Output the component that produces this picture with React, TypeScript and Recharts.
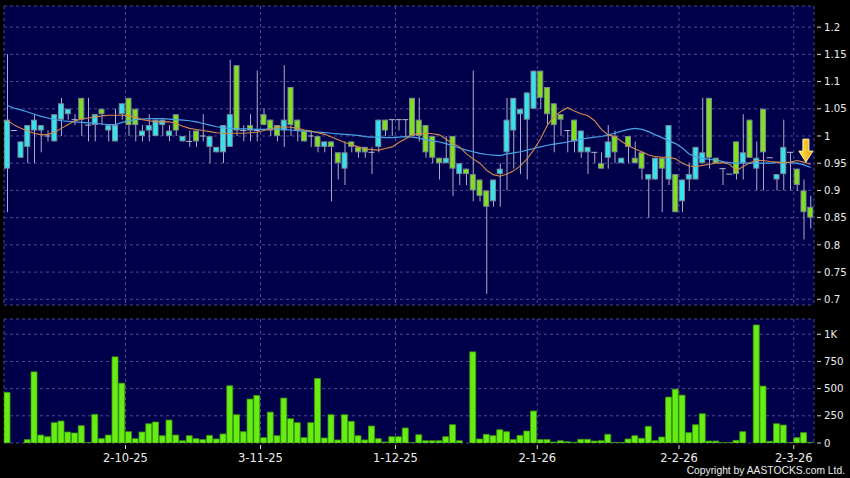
import React from 'react';
import { ComposedChart, Bar, Line, XAxis, YAxis, CartesianGrid, ReferenceDot } from 'recharts';

// trading days, d-m-yy
const DATES = [
  '5-9-25', '8-9-25', '9-9-25', '10-9-25', '11-9-25', '12-9-25', '15-9-25', '16-9-25', '17-9-25', '18-9-25',
  '19-9-25', '22-9-25', '23-9-25', '24-9-25', '25-9-25', '26-9-25', '29-9-25', '30-9-25',
  '2-10-25', '3-10-25', '6-10-25', '8-10-25', '9-10-25', '10-10-25', '13-10-25', '14-10-25', '15-10-25', '16-10-25',
  '17-10-25', '20-10-25', '21-10-25', '22-10-25', '23-10-25', '24-10-25', '27-10-25', '28-10-25', '30-10-25', '31-10-25',
  '3-11-25', '4-11-25', '5-11-25', '6-11-25', '7-11-25', '10-11-25', '11-11-25', '12-11-25', '13-11-25', '14-11-25',
  '17-11-25', '18-11-25', '19-11-25', '20-11-25', '21-11-25', '24-11-25', '25-11-25', '26-11-25', '27-11-25', '28-11-25',
  '1-12-25', '2-12-25', '3-12-25', '4-12-25', '5-12-25', '8-12-25', '9-12-25', '10-12-25', '11-12-25', '12-12-25',
  '15-12-25', '16-12-25', '17-12-25', '18-12-25', '19-12-25', '22-12-25', '23-12-25', '24-12-25', '29-12-25', '30-12-25', '31-12-25',
  '2-1-26', '5-1-26', '6-1-26', '7-1-26', '8-1-26', '9-1-26', '12-1-26', '13-1-26', '14-1-26', '15-1-26',
  '16-1-26', '19-1-26', '20-1-26', '21-1-26', '22-1-26', '23-1-26', '26-1-26', '27-1-26', '28-1-26', '29-1-26', '30-1-26',
  '2-2-26', '3-2-26', '4-2-26', '5-2-26', '6-2-26', '9-2-26', '10-2-26', '11-2-26', '12-2-26', '13-2-26',
  '16-2-26', '20-2-26', '23-2-26', '24-2-26', '25-2-26', '26-2-26', '27-2-26',
  '2-3-26', '3-3-26', '4-3-26',
];

const OPEN = [
  0.94, 1.01, 0.96, 0.98, 1.01, 1.01, 1.0, 0.99, 1.03, 1.04,
  1.03, 1.07, 1.02, 1.02, 1.05, 1.01, 0.99, 1.04, 1.07, 1.05,
  1.0, 1.01, 1.0, 1.02, 1.0, 1.04, 0.99, 0.99, 1.01, 1.0,
  0.98, 0.97, 0.97, 0.98, 1.13, 1.01, 1.02, 1.01, 1.04, 1.03,
  1.02, 1.01, 1.09, 1.03, 1.01, 1.0, 1.0, 0.98, 0.99, 0.97,
  0.94, 0.99, 0.98, 0.98, 0.97, 0.98, 1.03, 1.03, 1.03, 1.03,
  1.07, 1.03, 1.02, 1.0, 0.96, 0.95, 1.0, 0.93, 0.94, 0.93,
  0.92, 0.9, 0.88, 0.93, 0.97, 1.01, 1.04, 1.03, 1.05, 1.12,
  1.09, 1.06, 1.04, 1.01, 1.03, 0.97, 0.97, 0.97, 0.95, 0.96,
  1.0, 0.95, 1.0, 0.96, 0.97, 0.92, 0.92, 0.96, 0.92, 0.93,
  0.88, 0.92, 0.92, 0.95, 1.07, 0.96, 0.94, 0.93, 0.99, 0.95,
  1.03, 0.94, 1.05, 0.96, 0.92, 0.93, 0.97, 0.94, 0.9, 0.87,
];
const HIGH = [
  1.15, 1.01, 0.99, 1.02, 1.04, 1.02, 1.01, 1.04, 1.07, 1.05,
  1.04, 1.07, 1.07, 1.04, 1.05, 1.02, 1.05, 1.06, 1.07, 1.05,
  1.02, 1.04, 1.03, 1.03, 1.02, 1.04, 1.0, 1.01, 1.01, 1.04,
  1.0, 0.98, 1.02, 1.14, 1.13, 1.02, 1.04, 1.12, 1.05, 1.03,
  1.02, 1.13, 1.09, 1.03, 1.01, 1.01, 1.0, 0.99, 0.99, 0.97,
  0.99, 0.99, 0.98, 0.98, 0.98, 1.03, 1.03, 1.03, 1.03, 1.03,
  1.07, 1.07, 1.02, 1.0, 0.96, 1.0, 1.0, 0.95, 0.94, 1.12,
  0.92, 0.9, 0.92, 0.95, 1.07, 1.07, 1.05, 1.08, 1.12, 1.12,
  1.09, 1.06, 1.04, 1.01, 1.03, 1.01, 0.98, 0.97, 0.97, 1.02,
  1.01, 0.96, 1.0, 0.99, 0.97, 0.93, 0.96, 0.96, 1.02, 0.93,
  0.92, 0.95, 0.98, 1.07, 1.07, 0.96, 0.94, 0.93, 0.99, 1.04,
  1.03, 0.99, 1.05, 0.96, 0.93, 1.03, 0.97, 0.94, 0.92, 0.89,
];
const LOW = [
  0.86, 1.01, 0.96, 0.95, 0.95, 0.97, 0.99, 0.99, 1.0, 1.03,
  1.02, 1.0, 0.99, 0.99, 1.02, 0.99, 0.99, 1.03, 1.0, 0.99,
  0.99, 0.99, 1.0, 1.0, 0.99, 1.0, 0.99, 0.98, 0.98, 0.99,
  0.95, 0.97, 0.95, 0.98, 1.0, 0.99, 0.99, 0.99, 1.02, 1.0,
  0.99, 0.98, 1.0, 0.99, 0.99, 0.98, 0.97, 0.97, 0.88, 0.92,
  0.91, 0.97, 0.96, 0.96, 0.93, 0.97, 1.0, 1.0, 1.01, 1.0,
  1.0, 0.99, 0.96, 0.95, 0.92, 0.95, 0.89, 0.91, 0.91, 0.88,
  0.88, 0.71, 0.87, 0.87, 0.9, 0.94, 0.93, 0.92, 1.05, 1.05,
  1.02, 0.97, 1.0, 0.97, 0.97, 0.96, 0.93, 0.95, 0.94, 0.94,
  0.95, 0.95, 0.95, 0.95, 0.92, 0.85, 0.92, 0.86, 0.91, 0.86,
  0.86, 0.9, 0.92, 0.95, 0.94, 0.95, 0.91, 0.93, 0.92, 0.92,
  0.96, 0.9, 0.9, 0.96, 0.9, 0.9, 0.9, 0.9, 0.81, 0.83,
];
const CLOSE = [
  1.03, 1.01, 0.99, 1.02, 1.03, 1.02, 1.0, 1.04, 1.06, 1.05,
  1.03, 1.03, 1.02, 1.04, 1.04, 1.02, 1.02, 1.06, 1.02, 1.02,
  1.01, 1.02, 1.03, 1.03, 1.01, 1.01, 1.0, 0.99, 0.99, 1.0,
  1.0, 0.98, 1.02, 1.04, 1.01, 1.01, 1.01, 1.01, 1.02, 1.01,
  1.0, 1.03, 1.02, 1.01, 0.99, 1.0, 0.98, 0.99, 0.98, 0.95,
  0.97, 0.98, 0.97, 0.97, 0.97, 1.03, 1.01, 1.03, 1.03, 1.03,
  1.0, 1.0, 0.97, 0.96, 0.95, 0.96, 0.94, 0.95, 0.93, 0.9,
  0.89, 0.87, 0.92, 0.94, 1.03, 1.07, 1.05, 1.08, 1.12, 1.07,
  1.04, 1.02, 1.03, 1.01, 0.99, 1.01, 0.98, 0.97, 0.94, 0.99,
  0.97, 0.96, 0.98, 0.95, 0.94, 0.93, 0.96, 0.94, 1.02, 0.86,
  0.92, 0.93, 0.98, 0.97, 0.96, 0.95, 0.94, 0.93, 0.93, 0.97,
  0.96, 0.96, 0.97, 0.96, 0.93, 0.98, 0.97, 0.91, 0.86, 0.85,
];
// volume, thousands of shares
const VOLUME = [
  465, 0, 0, 31, 654, 73, 58, 187, 202, 101,
  92, 159, 3, 263, 40, 73, 792, 550, 104, 40,
  101, 177, 193, 67, 211, 73, 21, 67, 40, 31,
  70, 37, 83, 526, 260, 104, 404, 437, 49, 284,
  67, 413, 223, 187, 49, 187, 593, 46, 260, 28,
  260, 199, 67, 28, 156, 40, 9, 58, 58, 138,
  3, 76, 21, 21, 21, 58, 168, 21, 0, 838,
  37, 80, 67, 122, 104, 31, 70, 110, 294, 31,
  31, 9, 21, 12, 6, 34, 34, 18, 21, 80,
  5, 5, 37, 67, 43, 153, 21, 55, 422, 495,
  440, 95, 168, 269, 18, 18, 3, 3, 24, 104,
  0, 1085, 523, 15, 177, 165, 3, 49, 95, 5,
];
// moving averages as drawn (orange = short, blue = long)
const MA_SHORT = [
  1.029, 1.02, 1.014, 1.009, 1.005, 1.002, 1.003, 1.007, 1.014, 1.021,
  1.028, 1.031, 1.033, 1.035, 1.037, 1.038, 1.038, 1.038, 1.037, 1.035,
  1.03, 1.028, 1.026, 1.026, 1.026, 1.023, 1.018, 1.014, 1.012, 1.01,
  1.008, 1.006, 1.005, 1.005, 1.005, 1.005, 1.006, 1.007, 1.01, 1.013,
  1.016, 1.017, 1.016, 1.014, 1.011, 1.009, 1.006, 1.003, 0.998, 0.993,
  0.988, 0.984, 0.98, 0.976, 0.975, 0.974, 0.977, 0.98, 0.988, 0.995,
  1.002, 1.004, 1.005, 1.004, 1.002, 0.994, 0.986, 0.98, 0.967, 0.958,
  0.95, 0.937, 0.929, 0.926, 0.93, 0.936, 0.945, 0.958, 0.975, 0.995,
  1.02, 1.036, 1.045, 1.052, 1.046, 1.041, 1.037, 1.028, 1.012, 1.002,
  0.999, 0.99, 0.982, 0.976, 0.971, 0.965, 0.962, 0.961, 0.961, 0.958,
  0.95, 0.945, 0.944, 0.946, 0.948, 0.95, 0.951, 0.948, 0.936, 0.944,
  0.951, 0.955, 0.955, 0.953, 0.952, 0.951, 0.952, 0.955, 0.952, 0.948,
];
const MA_LONG = [
  1.056, 1.051, 1.048, 1.044, 1.04, 1.036, 1.033, 1.03, 1.028, 1.027,
  1.026, 1.025, 1.024, 1.023, 1.022, 1.021, 1.021, 1.025, 1.028, 1.03,
  1.031, 1.032, 1.032, 1.032, 1.031, 1.03, 1.029, 1.028, 1.026, 1.023,
  1.02, 1.017, 1.015, 1.014, 1.013, 1.013, 1.013, 1.012, 1.012, 1.013,
  1.013, 1.012, 1.011, 1.01, 1.009, 1.008, 1.007, 1.006, 1.005, 1.004,
  1.003, 1.002, 1.001, 0.999, 0.998, 0.998, 0.997, 0.997, 0.998, 0.999,
  0.998, 0.996, 0.993, 0.991, 0.989, 0.986, 0.982, 0.978, 0.974, 0.971,
  0.968, 0.966, 0.965, 0.964, 0.967, 0.969, 0.971, 0.974, 0.977, 0.98,
  0.983, 0.985, 0.987, 0.989, 0.992, 0.994, 0.996, 0.998, 0.999, 1.002,
  1.005, 1.009, 1.012, 1.014, 1.012, 1.008, 1.002, 0.997, 0.991, 0.986,
  0.978, 0.967, 0.962, 0.959, 0.957, 0.956, 0.953, 0.951, 0.95, 0.95,
  0.95, 0.95, 0.95, 0.95, 0.951, 0.951, 0.951, 0.95, 0.947, 0.942,
];

const PRICE_TICKS = [0.7, 0.75, 0.8, 0.85, 0.9, 0.95, 1, 1.05, 1.1, 1.15, 1.2];
const VOLUME_TICKS = [0, 250, 500, 750, 1000];
const ARROW_AT = { x: 118.3, y: 0.952 };

const UP = '#33e4f0';
const DOWN = '#80e01e';
const NAVY = '#00004a';
const GRID = '#4a4a92';
const FONT = 'DejaVu Sans';

const X_DOMAIN = [-0.5, DATES.length - 0.5];
const month = (d: string) => d.split('-')[1];
// grid sits on the left edge of the first trading day of each month
const MONTH_TICKS = DATES.map((d, i) => (i > 0 && month(d) !== month(DATES[i - 1]) ? i - 0.5 : null)).filter(
  (v): v is number => v !== null
);

const Wick = (props: any) => {
  const { x, y, width, height } = props;
  const cx = x + width / 2;
  const top = Math.min(y, y + height);
  const bottom = Math.max(y, y + height);
  if (bottom - top < 0.5) return null;
  return <line x1={cx} x2={cx} y1={top} y2={bottom} stroke="#a8acc6" strokeWidth={1} />;
};

const Body = (props: any) => {
  const { x, y, width, height, payload } = props;
  const top = Math.min(y, y + height);
  const h = Math.abs(height);
  if (h < 1) {
    return <line x1={x} x2={x + width} y1={top} y2={top} stroke="#b4b8cc" strokeWidth={1} />;
  }
  return (
    <rect
      x={x + 0.5}
      y={top + 0.5}
      width={width - 1}
      height={h - 1}
      fill={payload.up ? UP : DOWN}
      stroke="#7a8a94"
      strokeWidth={1}
    />
  );
};

const Arrow = ({ cx, cy }: any) => (
  <g>
    <defs>
      <linearGradient id="arrowFill" x1="0" y1="0" x2="1" y2="0">
        <stop offset="0" stopColor="#ffe35a" />
        <stop offset="1" stopColor="#f0a400" />
      </linearGradient>
    </defs>
    <polygon
      points={`${cx},${cy} ${cx - 7},${cy - 11} ${cx - 3},${cy - 11} ${cx - 3},${cy - 23} ${cx + 3},${cy - 23} ${cx + 3},${cy - 11} ${cx + 7},${cy - 11}`}
      fill="url(#arrowFill)"
      stroke="#fff0a0"
      strokeWidth={1}
    />
  </g>
);

const RightTick = ({ x, y, payload, fmt }: any) => (
  <g>
    <line x1={x + 3} x2={x + 7} y1={y} y2={y} stroke="#d8d8d8" strokeWidth={1} />
    <text x={x + 10} y={y} dy="0.36em" fill="#ececec" fontSize={10.2} fontFamily={FONT}>
      {fmt(payload.value)}
    </text>
  </g>
);

const DateTick = ({ x, y, payload }: any) => (
  <g>
    <line x1={x} x2={x} y1={y + 2} y2={y + 6} stroke="#d8d8d8" strokeWidth={1} />
    <text x={x} y={y + 19} textAnchor="middle" fill="#ececec" fontSize={11.5} fontFamily={FONT}>
      {DATES[payload.value + 0.5]}
    </text>
  </g>
);

const priceFmt = (v: number) => String(parseFloat(v.toFixed(2)));
const volFmt = (v: number) => (v >= 1000 ? `${v / 1000}K` : String(v));

export default function App() {
  const rows = DATES.map((date, i) => ({
    i,
    date,
    wick: [LOW[i], HIGH[i]],
    body: [Math.min(OPEN[i], CLOSE[i]), Math.max(OPEN[i], CLOSE[i])],
    up: CLOSE[i] >= OPEN[i],
    vol: VOLUME[i],
    maShort: MA_SHORT[i],
    maLong: MA_LONG[i],
  }));

  return (
    <div style={{ position: 'absolute', left: 0, top: 0, width: 850, height: 478, background: '#000', overflow: 'hidden' }}>
      <div style={{ position: 'absolute', left: 0, top: 0 }}>
        <ComposedChart width={850} height={310} data={rows} margin={{ top: 6, right: 0, bottom: 5, left: 4 }}>
          <CartesianGrid fill={NAVY} stroke={GRID} strokeDasharray="3 3" />
          <XAxis xAxisId={0} type="number" dataKey="i" domain={X_DOMAIN} ticks={MONTH_TICKS} allowDataOverflow hide />
          <XAxis xAxisId="body" type="number" dataKey="i" domain={X_DOMAIN} allowDataOverflow hide />
          <YAxis
            orientation="right"
            width={36}
            domain={[0.6895, 1.2388]}
            ticks={PRICE_TICKS}
            allowDataOverflow
            axisLine={false}
            tickLine={false}
            tickSize={0}
            tickMargin={0}
            tick={(p: any) => <RightTick {...p} fmt={priceFmt} />}
          />
          <Bar xAxisId={0} dataKey="wick" barSize={1} shape={Wick} isAnimationActive={false} />
          <Bar xAxisId="body" dataKey="body" barSize={6} shape={Body} isAnimationActive={false} />
          <Line xAxisId={0} dataKey="maLong" stroke="#48a4e6" strokeWidth={1.2} dot={false} isAnimationActive={false} />
          <Line xAxisId={0} dataKey="maShort" stroke="#d4884a" strokeWidth={1.1} dot={false} isAnimationActive={false} />
          <ReferenceDot xAxisId={0} x={ARROW_AT.x} y={ARROW_AT.y} shape={Arrow} />
        </ComposedChart>
      </div>
      <div style={{ position: 'absolute', left: 0, top: 310 }}>
        <ComposedChart width={850} height={168} data={rows} margin={{ top: 9, right: 0, bottom: 0, left: 4 }}>
          <CartesianGrid fill={NAVY} stroke={GRID} strokeDasharray="3 3" />
          <XAxis
            type="number"
            dataKey="i"
            domain={X_DOMAIN}
            ticks={MONTH_TICKS}
            allowDataOverflow
            height={35}
            axisLine={false}
            tickLine={false}
            tickSize={0}
            tickMargin={0}
            interval={0}
            tick={DateTick}
          />
          <YAxis
            orientation="right"
            width={36}
            domain={[0, 1140]}
            ticks={VOLUME_TICKS}
            allowDataOverflow
            axisLine={false}
            tickLine={false}
            tickSize={0}
            tickMargin={0}
            tick={(p: any) => <RightTick {...p} fmt={volFmt} />}
          />
          <Bar dataKey="vol" barSize={6} fill="#66ee12" stroke="#3f9a0c" strokeWidth={0.8} isAnimationActive={false} />
        </ComposedChart>
      </div>
      <div
        style={{
          position: 'absolute',
          right: 5,
          top: 465,
          fontFamily: "'Liberation Sans', Arial, sans-serif",
          fontSize: 10.3,
          lineHeight: '12px',
          color: '#ececec',
        }}
      >
        Copyright by AASTOCKS.com Ltd.
      </div>
    </div>
  );
}
